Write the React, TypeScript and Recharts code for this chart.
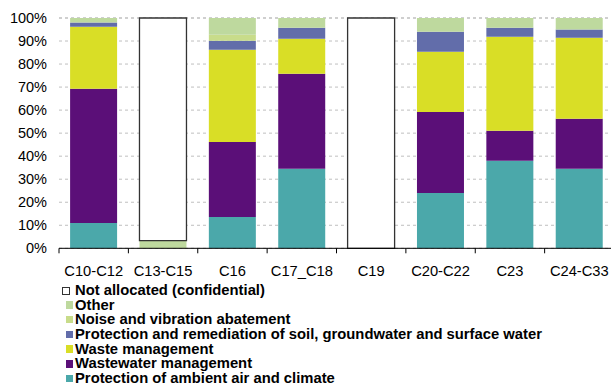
import React from 'react';
import { BarChart, Bar, XAxis, YAxis, CartesianGrid, Legend } from 'recharts';

const categories = ['C10-C12', 'C13-C15', 'C16', 'C17_C18', 'C19', 'C20-C22', 'C23', 'C24-C33'];
const airClimate = [11, 0, 13.6, 34.5, 0, 24, 38, 34.5];
const wastewater = [58.3, 0, 32.6, 41.3, 0, 35.2, 13, 21.7];
const wasteMgmt = [26.9, 0, 40, 15.2, 0, 26.1, 40.9, 35.2];
const soilWater = [1.8, 0, 3.9, 4.8, 0, 8.7, 3.9, 3.6];
const noise = [0, 0, 2.6, 0, 0, 0, 0, 0];
const other = [2.0, 3.3, 7.3, 4.2, 0, 6.0, 4.2, 5.0];
const notAllocated = [0, 96.7, 0, 0, 100, 0, 0, 0];
const yTicks = [0, 10, 20, 30, 40, 50, 60, 70, 80, 90, 100];

const series = [
  { key: 'air', name: 'Protection of ambient air and climate', values: airClimate, color: '#4BA8AA' },
  { key: 'ww', name: 'Wastewater management', values: wastewater, color: '#5B0F78' },
  { key: 'waste', name: 'Waste management', values: wasteMgmt, color: '#D9DE26' },
  { key: 'soil', name: 'Protection and remediation of soil, groundwater and surface water', values: soilWater, color: '#626DAA' },
  { key: 'noise', name: 'Noise and vibration abatement', values: noise, color: '#C8DC8A' },
  { key: 'other', name: 'Other', values: other, color: '#BED99E' },
  { key: 'na', name: 'Not allocated (confidential)', values: notAllocated, color: '#FFFFFF' },
];

const data = categories.map((c, i) => {
  const row: Record<string, string | number> = { cat: c };
  series.forEach((s) => {
    row[s.key] = s.values[i];
  });
  return row;
});

const FONT = '"Liberation Sans", Arial, sans-serif';

const XTick = (props: any) => {
  const { x, y, payload } = props;
  const off = payload.offset || 0;
  return (
    <g>
      <line x1={x - off} x2={x - off} y1={y - 17.5} y2={y - 12.5} stroke="#000" strokeWidth={1} />
      <text x={x} y={y} dy="0.71em" textAnchor="middle" fontSize={14.7} fill="#000" fontFamily={FONT}>
        {payload.value}
      </text>
    </g>
  );
};

const LegendContent = () => (
  <div style={{ fontFamily: FONT, fontWeight: 'bold', fontSize: 14.8, color: '#000' }}>
    {series
      .slice()
      .reverse()
      .map((s) => (
        <div key={s.key} style={{ position: 'relative', height: 14.7, lineHeight: '14.7px', whiteSpace: 'nowrap' }}>
          <span
            style={{
              position: 'absolute',
              left: s.key === 'na' ? 0 : 4,
              top: s.key === 'na' ? 3.5 : 3.6,
              width: s.key === 'na' ? 6 : 6.5,
              height: s.key === 'na' ? 6 : 7.5,
              background: s.color,
              border: s.key === 'na' ? '1px solid #333' : 'none',
            }}
          />
          <span style={{ position: 'absolute', left: 13, top: 0 }}>{s.name}</span>
        </div>
      ))}
  </div>
);

export default function App() {
  return (
    <div style={{ position: 'absolute', left: 0, top: 0, width: 611, height: 385, overflow: 'hidden', background: '#fff' }}>
      <BarChart
        width={620}
        height={385}
        data={data}
        margin={{ top: 18, right: 6, left: 0, bottom: 0 }}
        barCategoryGap="16%"
      >
        <CartesianGrid vertical={false} stroke="#BFBFBF" strokeDasharray="3 3" />
        <XAxis
          dataKey="cat"
          height={34.7}
          axisLine={{ stroke: '#000' }}
          tickLine={false}
          tickSize={0}
          tickMargin={17.5}
          interval={0}
          tick={<XTick />}
        />
        <YAxis
          width={59}
          domain={[0, 100]}
          ticks={yTicks}
          tickFormatter={(v: number) => `${v}%`}
          axisLine={false}
          tickLine={false}
          tickMargin={6}
          tick={{ fontSize: 14.5, fill: '#000', fontFamily: FONT }}
          interval={0}
        />
        <Legend
          verticalAlign="bottom"
          layout="horizontal"
          content={<LegendContent />}
          wrapperStyle={{ top: 283, left: 62, bottom: 'auto', width: 560, height: 102 }}
        />
        {series.map((s) => (
          <Bar
            key={s.key}
            dataKey={s.key}
            name={s.name}
            stackId="a"
            fill={s.color}
            stroke={s.key === 'na' ? '#333' : 'none'}
            strokeWidth={s.key === 'na' ? 1.3 : 0}
            isAnimationActive={false}
          />
        ))}
      </BarChart>
    </div>
  );
}
